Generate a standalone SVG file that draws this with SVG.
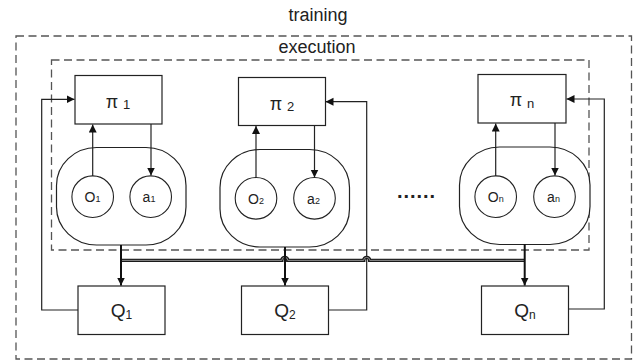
<svg xmlns="http://www.w3.org/2000/svg" width="639" height="361" viewBox="0 0 639 361">
<style>
text{font-family:"Liberation Sans",Arial,sans-serif;fill:#222}
.box{fill:#fff;stroke:#222;stroke-width:1.2}
.blob{fill:#fff;stroke:#222;stroke-width:1.2}
.circ{fill:#fff;stroke:#222;stroke-width:1.1}
.dash{fill:none;stroke:#555;stroke-width:1.3;stroke-dasharray:8 4.5}
.ln{fill:none;stroke:#222;stroke-width:1.2}
.thk{fill:none;stroke:#111;stroke-width:2}
.ttl{font-size:18px;text-anchor:middle}
.pi{font-size:18px;text-anchor:middle}
.cl{font-size:14px;text-anchor:middle}
.ql{font-size:19px;text-anchor:middle}
</style>
<defs>
<marker id="ah" markerWidth="9" markerHeight="9" refX="8" refY="4" orient="auto" markerUnits="userSpaceOnUse">
<path d="M0,0 L8,4 L0,8 z" fill="#111"/>
</marker>
</defs>

<g id="training">
<rect class="dash" x="16" y="36" width="615.5" height="323"/>
<text class="ttl" x="318" y="21">training</text>
</g>
<g id="execution">
<rect class="dash" x="51.5" y="60" width="537.5" height="190"/>
<text class="ttl" x="317" y="53">execution</text>
</g>

<g id="pi1">
<rect class="box" x="75" y="75.5" width="87" height="48.5"/>
<text class="pi" x="118" y="108">π <tspan font-size="13" dy="1">1</tspan></text>
</g>
<g id="pi2">
<rect class="box" x="238.5" y="77.5" width="87" height="48"/>
<text class="pi" x="282" y="110">π <tspan font-size="13" dy="1">2</tspan></text>
</g>
<g id="pin">
<rect class="box" x="478" y="74.5" width="88" height="48.5"/>
<text class="pi" x="522" y="106">π <tspan font-size="13" dy="2">n</tspan></text>
</g>

<g id="agent1">
<rect class="blob" x="56.5" y="147.5" width="129.5" height="97.5" rx="40" ry="38"/>
<circle class="circ" cx="92.7" cy="196.7" r="20.8"/>
<circle class="circ" cx="150.7" cy="196.7" r="20.8"/>
<text class="cl" x="92.5" y="202">O<tspan font-size="9">1</tspan></text>
<text class="cl" x="149" y="202">a<tspan font-size="9">1</tspan></text>
</g>
<g id="agent2">
<rect class="blob" x="220" y="149.5" width="129.5" height="97.5" rx="40" ry="38"/>
<circle class="circ" cx="256" cy="198.3" r="20.8"/>
<circle class="circ" cx="314.5" cy="198.3" r="20.8"/>
<text class="cl" x="256" y="203.5">O<tspan font-size="9">2</tspan></text>
<text class="cl" x="313.5" y="203.5">a<tspan font-size="9">2</tspan></text>
</g>
<g id="agentn">
<rect class="blob" x="459.5" y="147" width="130.5" height="97.5" rx="40" ry="38"/>
<circle class="circ" cx="495.7" cy="196.7" r="20.8"/>
<circle class="circ" cx="554.5" cy="196.7" r="20.8"/>
<text class="cl" x="495.7" y="202">O<tspan font-size="9">n</tspan></text>
<text class="cl" x="553.5" y="202">a<tspan font-size="9">n</tspan></text>
</g>

<g id="dots">
<text x="397" y="198" font-size="20" font-weight="bold" textLength="38" lengthAdjust="spacing">......</text>
</g>

<g id="Q1">
<rect class="box" x="78" y="286" width="87" height="48.5"/>
<text class="ql" x="121.5" y="317">Q<tspan font-size="12" dy="1.5">1</tspan></text>
</g>
<g id="Q2">
<rect class="box" x="241.5" y="286" width="87" height="48.5"/>
<text class="ql" x="285" y="317">Q<tspan font-size="12" dy="1.5">2</tspan></text>
</g>
<g id="Qn">
<rect class="box" x="481.5" y="286" width="87" height="48.5"/>
<text class="ql" x="525" y="317">Q<tspan font-size="12" dy="1.5">n</tspan></text>
</g>

<g id="connectors">
<line class="ln" x1="92.7" y1="176" x2="92.7" y2="124.5" marker-end="url(#ah)"/>
<line class="ln" x1="151" y1="124" x2="151" y2="175.5" marker-end="url(#ah)"/>
<line class="ln" x1="256" y1="177.5" x2="256" y2="126" marker-end="url(#ah)"/>
<line class="ln" x1="314.5" y1="125.5" x2="314.5" y2="177.5" marker-end="url(#ah)"/>
<line class="ln" x1="495.7" y1="176" x2="495.7" y2="123.5" marker-end="url(#ah)"/>
<line class="ln" x1="555" y1="123" x2="555" y2="175.5" marker-end="url(#ah)"/>
<polyline class="ln" points="78,310 41.7,310 41.7,99.3 74.5,99.3" marker-end="url(#ah)"/>
<polyline class="ln" points="328,310 366.7,310 366.7,101.7 325.5,101.7" marker-end="url(#ah)"/>
<polyline class="ln" points="568,309 604.3,309 604.3,99 566.5,99" marker-end="url(#ah)"/>
<path d="M121 260.4 H281.8 a3 3 0 0 1 6 0 H363.7 a3 3 0 0 1 6 0 H524.7" fill="none" stroke="#1a1a1a" stroke-width="3.4"/>
<path d="M121 260.4 H281.8 a3 3 0 0 1 6 0 H363.7 a3 3 0 0 1 6 0 H524.7" fill="none" stroke="#9a9a9a" stroke-width="0.9"/>
<line class="thk" x1="121" y1="245" x2="121" y2="285.5" marker-end="url(#ah)"/>
<line class="thk" x1="285" y1="247" x2="285" y2="285.5" marker-end="url(#ah)"/>
<line class="thk" x1="524.7" y1="244" x2="524.7" y2="285.5" marker-end="url(#ah)"/>
</g>
</svg>
